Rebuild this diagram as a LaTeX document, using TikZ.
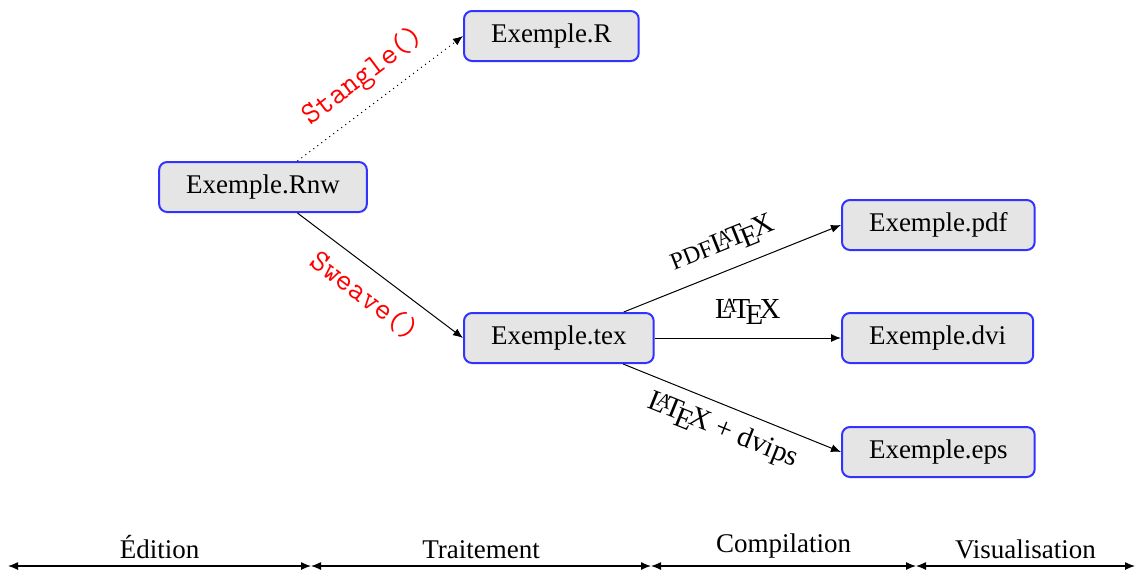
\documentclass[tikz,border=0pt]{standalone}
\usepackage{fontspec}
\setmainfont{Liberation Serif}
\usetikzlibrary{arrows.meta}
\tikzset{
  file/.style={draw=blue!80, line width=1pt, fill=gray!20, rounded corners=4pt,
    minimum height=25pt, inner xsep=13.5pt, font=\fontsize{13.5}{16}\selectfont},
  flow/.style={line width=0.5pt, -{Latex[length=5pt,width=4pt]}},
  rlab/.style={text=red, font=\ttfamily\fontsize{15.5}{17}\selectfont, sloped},
  tlab/.style={font=\fontsize{14.5}{17}\selectfont, sloped},
  phase/.style={line width=0.6pt, {Latex[length=5pt,width=4pt]}-{Latex[length=5pt,width=4pt]}},
  phaselab/.style={font=\fontsize{13.5}{16}\selectfont, above=0pt}
}
\begin{document}
\begin{tikzpicture}[x=0.5pt,y=-0.5pt]
\useasboundingbox (0,0) rectangle (1135,569);
\node[file] (rnw) at (263,187) {Exemple.Rnw};
\node[file, anchor=west] (r) at (463,36) {Exemple.R};
\node[file, anchor=west] (tex) at (463,338) {Exemple.tex};
\node[file, anchor=west] (pdf) at (841,225) {Exemple.pdf};
\node[file, anchor=west] (dvi) at (841,338) {Exemple.dvi};
\node[file, anchor=west] (eps) at (841,452) {Exemple.eps};

\draw[flow, dotted] (rnw) -- node[rlab, above=3pt] {Stangle()} (r.west);
\draw[flow] (rnw) -- node[rlab, below=3pt] {Sweave()} (tex.west);
\draw[flow] (tex) -- node[tlab, above=3pt] {{\fontsize{12}{13}\selectfont PDF}\LaTeX} (pdf.west);
\draw[flow] (tex) -- node[tlab, above=3pt] {\LaTeX} (dvi.west);
\draw[flow] (tex) -- node[tlab, below=2pt] {\LaTeX{} + dvips} (eps.west);

\coordinate (t0) at (8,566);
\coordinate (t1) at (311,566);
\coordinate (t2) at (651,566);
\coordinate (t3) at (916,566);
\coordinate (t4) at (1135,566);
\draw[phase] (t0) -- node[phaselab] {Édition} (t1);
\draw[phase] (t1) -- node[phaselab] {Traitement} (t2);
\draw[phase] (t2) -- node[phaselab] {Compilation} (t3);
\draw[phase] (t3) -- node[phaselab] {Visualisation} (t4);
\end{tikzpicture}
\end{document}
